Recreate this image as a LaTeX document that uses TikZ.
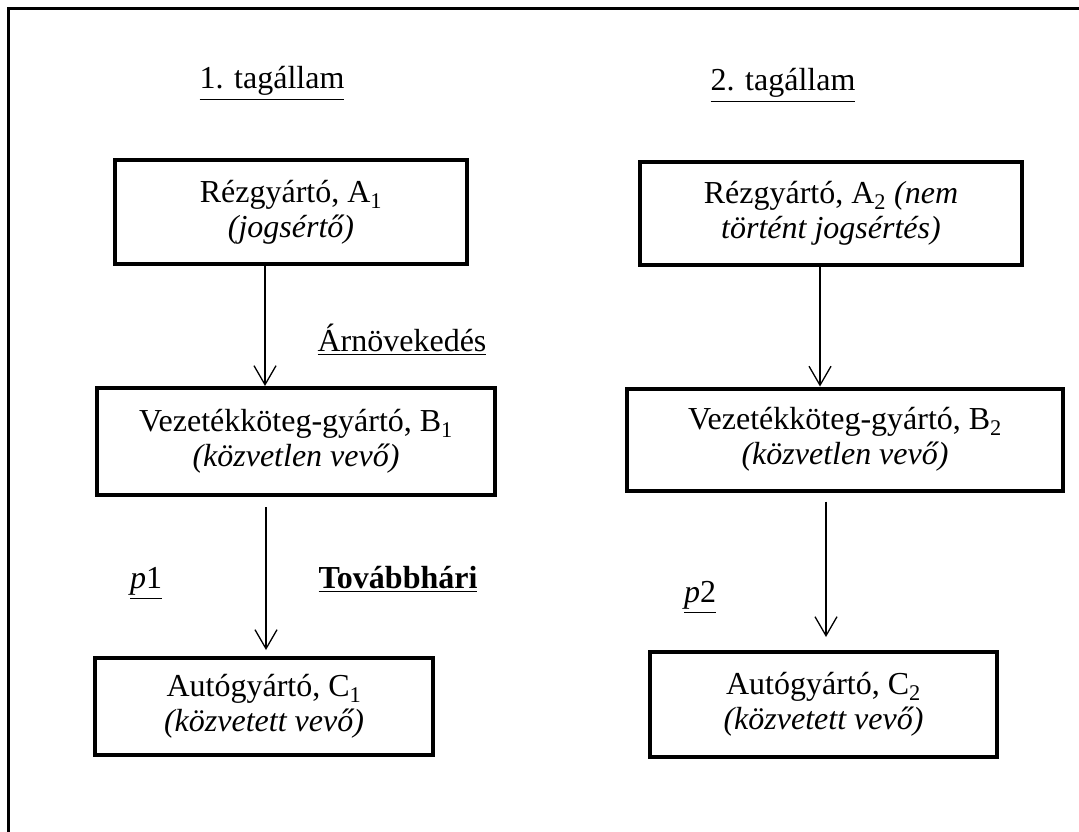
\documentclass[tikz,border=0pt]{standalone}
\usepackage{amsmath}
\usepackage{fontspec}
\setmainfont{Liberation Serif}
\usepackage{tikz}
\usetikzlibrary{arrows.meta,calc}

\begin{document}
\begin{tikzpicture}[x=1pt,y=-1pt,
		box/.style={draw, line width=4pt, align=center, inner sep=0pt,
			font=\fontsize{32}{35}\selectfont},
		lbl/.style={anchor=base, inner sep=0pt, font=\fontsize{32}{35}\selectfont},
		flow/.style={line width=1.3pt,
			-{Straight Barb[length=19pt,width=22pt,line width=1.3pt]}}]
		\useasboundingbox (0,0) rectangle (1079,832);
		\coordinate (F1) at (8,850);
		\coordinate (F2) at (8,9);
		\coordinate (F3) at (1095,9);
		\coordinate (x1) at (265,0);
		\coordinate (x2) at (266,0);
		\coordinate (x3) at (820,0);
		\coordinate (x4) at (826,0);
		
		\draw[line width=3pt] (F1) -- (F2) -- (F3);
		
		\node[lbl] (T1) at (272,89) {\underline{1. tagállam}};
		\node[lbl] (T2) at (783,91) {\underline{2. tagállam}};
		
		\node[box, minimum width=352pt, minimum height=104pt] (A1) at (291,212)
			{Rézgyártó, A\textsubscript{1}\\\textit{(jogsértő)}};
		\node[box, minimum width=398pt, minimum height=107pt] (B1) at (296,441.5)
			{Vezetékköteg-gyártó, B\textsubscript{1}\\\textit{(közvetlen vevő)}};
		\node[box, minimum width=338pt, minimum height=97pt] (C1) at (264,706.5)
			{Autógyártó, C\textsubscript{1}\\\textit{(közvetett vevő)}};
		
		\node[box, minimum width=382pt, minimum height=103pt] (A2) at (831,213.5)
			{Rézgyártó, A\textsubscript{2} \textit{(nem}\\\textit{történt jogsértés)}};
		\node[box, minimum width=436pt, minimum height=102pt] (B2) at (845,439.5)
			{Vezetékköteg-gyártó, B\textsubscript{2}\\\textit{(közvetlen vevő)}};
		\node[box, minimum width=347pt, minimum height=105pt] (C2) at (823.5,704.5)
			{Autógyártó, C\textsubscript{2}\\\textit{(közvetett vevő)}};
		
		\draw[flow] (A1.south -| x1) -- (B1.north -| x1);
		\draw[flow, shorten <=10pt, shorten >=6pt] (B1.south -| x2) -- (C1.north -| x2);
		\draw[flow] (A2.south -| x3) -- (B2.north -| x3);
		\draw[flow, shorten <=9pt, shorten >=13pt] (B2.south -| x4) -- (C2.north -| x4);
		
		\node[lbl] (L1) at (402,351) {\underline{Árnövekedés}};
		\node[lbl] (L2) at (398,588) {\textbf{\underline{Továbbhári}}};
		\node[lbl] (P1) at (146,588) {\underline{\textit{p}1}};
		\node[lbl] (P2) at (700,602) {\underline{\textit{p}2}};
	\end{tikzpicture}
\end{document}
